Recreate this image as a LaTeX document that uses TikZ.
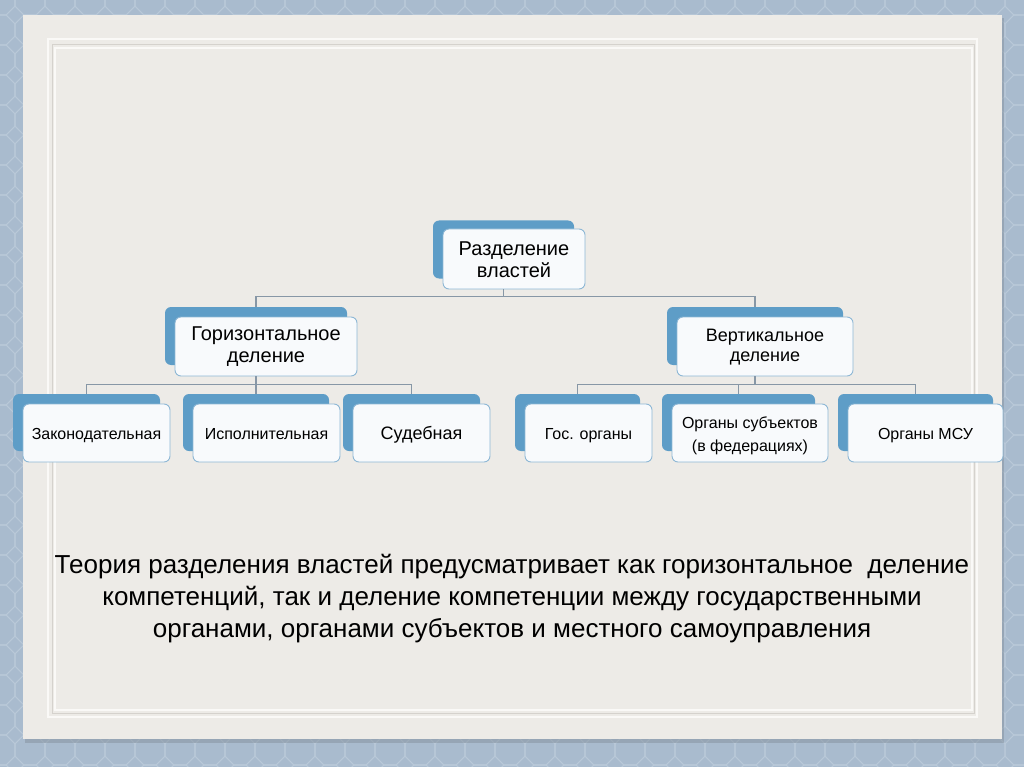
\documentclass[tikz,border=0pt]{standalone}
\usepackage{fontspec}
\setmainfont{Liberation Sans}
\usetikzlibrary{calc}
\definecolor{bgblue}{HTML}{A9BBCE}
\definecolor{bgpattern}{HTML}{B9C8D8}
\definecolor{panelshadow}{HTML}{7F8B97}
\definecolor{panel}{HTML}{EDEBE7}
\definecolor{frameline}{HTML}{FAF9F7}
\definecolor{frameshade}{HTML}{D5D2CD}
\definecolor{tabblue}{HTML}{5E9DC7}
\definecolor{cardfill}{HTML}{F8FAFC}
\definecolor{cardline}{HTML}{8DB7D5}
\definecolor{connline}{HTML}{8797A6}
\begin{document}
\begin{tikzpicture}[x=1pt,y=-1pt,
  tabbox/.style={fill=tabblue, rounded corners=6pt, inner sep=0pt},
  card/.style={fill=cardfill, draw=cardline, line width=0.9pt, rounded corners=6pt, inner sep=0pt},
  lbl/.style={align=center, inner sep=0pt, text=black},
  conn/.style={draw=connline, line width=1.1pt},
  bigf/.style={font=\fontsize{20}{22}\selectfont},
  midf/.style={font=\fontsize{18}{20}\selectfont},
  leaff/.style={font=\fontsize{16}{23}\selectfont}]
\useasboundingbox (0,0) rectangle (1024,767);
\fill[bgblue] (0,0) rectangle (1024,767);
\begin{scope}[draw=bgpattern, line width=1.1pt]
\foreach \x in {0,30,...,1050}{
  \foreach \y in {0,30,...,780}{
    \draw[shift={(\x,\y)}] (22.5:16.2) -- (67.5:16.2) -- (112.5:16.2) -- (157.5:16.2)
      -- (202.5:16.2) -- (247.5:16.2) -- (292.5:16.2) -- (337.5:16.2) -- cycle;
  }
}
\end{scope}
\fill[panelshadow, opacity=0.45] (25,18) rectangle (1004,743);
\fill[panel] (23,15) rectangle (1002,739);
\draw[frameline, line width=2pt] (48,39) rectangle (977,717);
\draw[frameshade, line width=0.8pt] (52,44) rectangle (974,713);
\draw[frameline, line width=1.5pt] (55,48) rectangle (972,710);

% root
\node[tabbox, minimum width=141pt, minimum height=58pt] (rT) at (503.5,249.5) {};
\node[card, minimum width=142pt, minimum height=60pt] (r) at (514,259) {};
\node[lbl, bigf] (rL) at ($(r.center)+(0,0.5)$) {Разделение\\властей};
% level 2
\node[tabbox, minimum width=182pt, minimum height=58pt] (hT) at (256,336) {};
\node[card, minimum width=182pt, minimum height=59pt] (h) at (266,346.5) {};
\node[lbl, bigf] (hL) at ($(h.center)+(0,0.5)$) {Горизонтальное\\деление};
\node[tabbox, minimum width=176pt, minimum height=58pt] (vT) at (755,336) {};
\node[card, minimum width=176pt, minimum height=59pt] (v) at (765,346.5) {};
\node[lbl, midf] (vL) at ($(v.center)+(0,0.5)$) {Вертикальное\\деление};
% leaves
\node[tabbox, minimum width=147pt, minimum height=57pt] (zT) at (86.5,422.5) {};
\node[card, minimum width=147pt, minimum height=58pt] (z) at (96.5,433) {};
\node[lbl, leaff] (zL) at ($(z.center)+(0,3)$) {Законодательная};
\node[tabbox, minimum width=146pt, minimum height=57pt] (iT) at (256,422.5) {};
\node[card, minimum width=147pt, minimum height=58pt] (i) at (266.5,433) {};
\node[lbl, leaff] (iL) at ($(i.center)+(0,1)$) {Исполнительная};
\node[tabbox, minimum width=137pt, minimum height=57pt] (sT) at (411.5,422.5) {};
\node[card, minimum width=137pt, minimum height=58pt] (s) at (421.5,433) {};
\node[lbl, font=\fontsize{18}{20}\selectfont] (sL) at ($(s.center)+(0,1.5)$) {Судебная};
\node[tabbox, minimum width=125pt, minimum height=57pt] (gT) at (577.5,422.5) {};
\node[card, minimum width=127pt, minimum height=58pt] (g) at (588.5,433) {};
\node[lbl, leaff] (gL) at ($(g.center)+(0,3)$) {Гос. органы};
\node[tabbox, minimum width=153pt, minimum height=57pt] (oT) at (738.5,422.5) {};
\node[card, minimum width=156pt, minimum height=58pt] (o) at (750,433) {};
\node[lbl, leaff] (oL) at ($(o.center)+(0,3)$) {Органы субъектов\\(в федерациях)};
\node[tabbox, minimum width=155pt, minimum height=57pt] (mT) at (915.5,422.5) {};
\node[card, minimum width=155pt, minimum height=58pt] (m) at (925.5,433) {};
\node[lbl, leaff] (mL) at ($(m.center)+(0,3)$) {Органы МСУ};

% connectors
\draw[conn] (rT.south |- r.south) |- ([yshift=10pt]hT.north) -- (hT.north);
\draw[conn] (rT.south |- r.south) |- ([yshift=10pt]vT.north) -- (vT.north);
\foreach \c in {zT,iT,sT}{
  \draw[conn] (hT.south |- h.south) |- ([yshift=9pt]\c.north) -- (\c.north);
}
\foreach \c in {gT,oT,mT}{
  \draw[conn] (vT.south |- v.south) |- ([yshift=9pt]\c.north) -- (\c.north);
}

\node[align=center, font=\fontsize{26}{32}\selectfont, inner sep=0pt] (txt) at (512,599)
 {Теория разделения властей предусматривает как горизонтальное \ деление\\
  компетенций, так и деление компетенции между государственными\\
  органами, органами субъектов и местного самоуправления};
\end{tikzpicture}
\end{document}
